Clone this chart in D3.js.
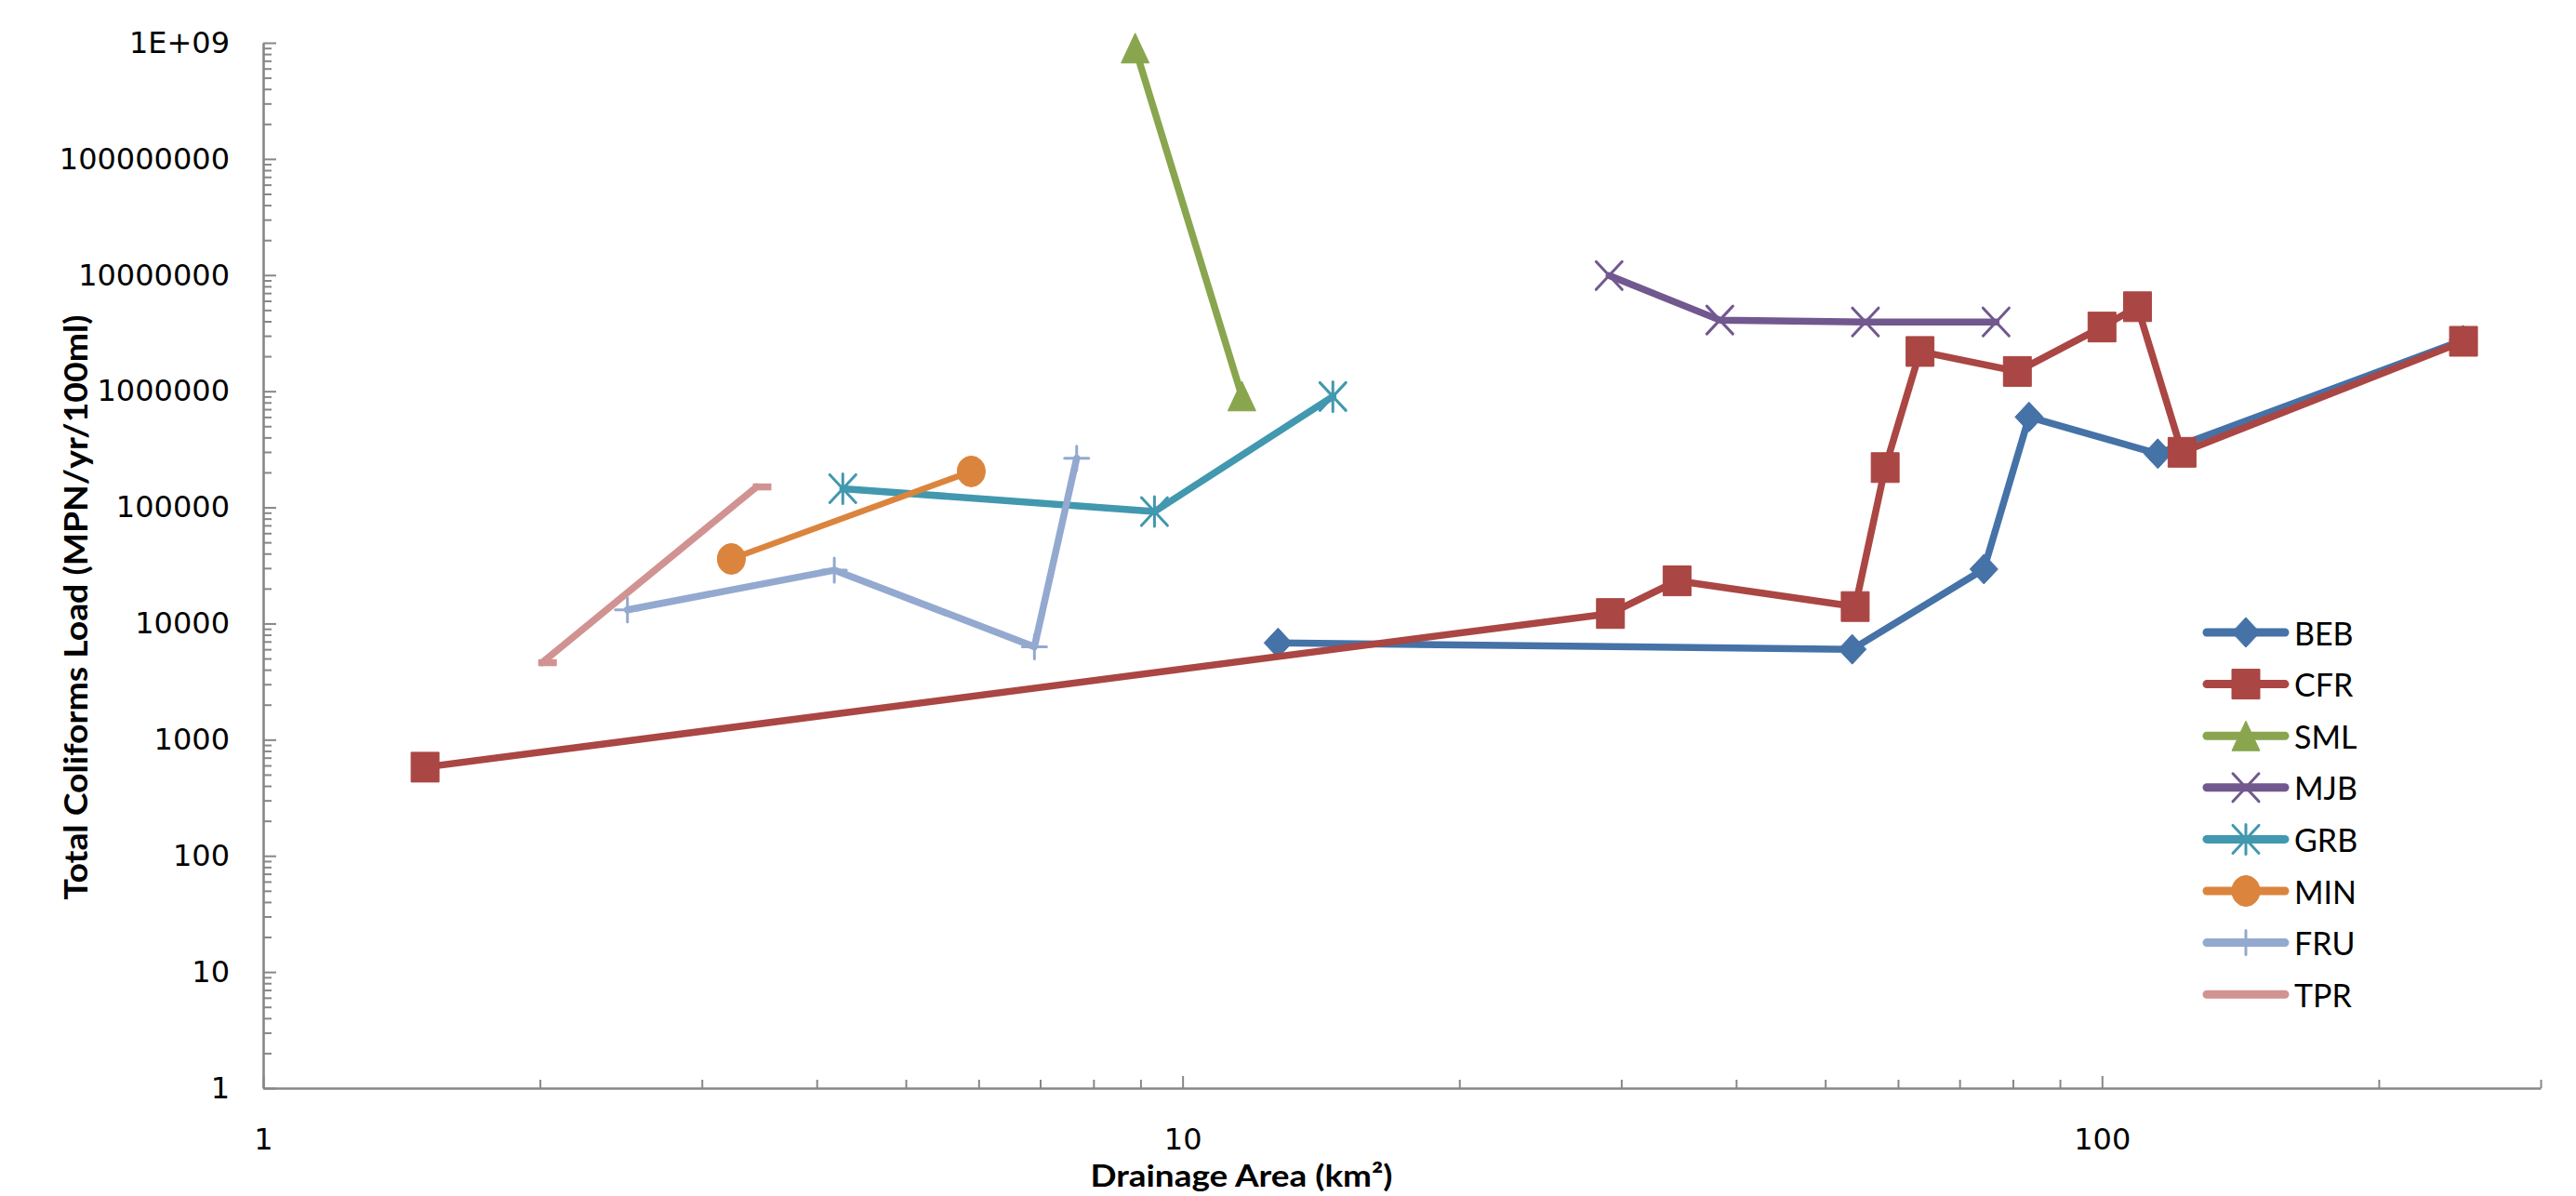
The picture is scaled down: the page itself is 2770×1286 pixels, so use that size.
<!DOCTYPE html>
<html>
<head>
<meta charset="utf-8">
<script src="https://cdn.jsdelivr.net/npm/d3@7"></script>
<style>
  body { margin: 0; background: #fff; }
  svg { display: block; }
</style>
</head>
<body>
<svg id="chart" width="2770" height="1286"></svg>
<script>
// Drainage area (km²) vs. total coliforms load (MPN/yr/100ml), one array per watershed
const BEB = [[12.7, 6800], [53.5, 6000], [74.4, 29400], [83.3, 600000], [115, 290000], [247, 2750000]];
const CFR = [[1.5, 580], [29.2, 12200], [34.5, 23300], [53.9, 14000], [58.1, 220000], [63.4, 2200000],
             [80.9, 1480000], [100, 3570000], [109.3, 5340000], [122.2, 298000], [247.3, 2690000]];
const SML = [[8.88, 900000000], [11.6, 910000]];
const MJB = [[29.1, 9900000], [38.4, 4100000], [55.3, 3950000], [76.7, 3950000]];
const GRB = [[4.27, 145000], [9.32, 92000], [14.57, 900000]];
const MIN = [[3.23, 36000], [5.89, 204000]];
const FRU = [[2.49, 13100], [4.18, 28800], [6.9, 6300], [7.67, 265000]];
const TPR = [[2.01, 4600], [3.44, 150000]];

const seriesNames = ["BEB", "CFR", "SML", "MJB", "GRB", "MIN", "FRU", "TPR"];
const seriesData = [BEB, CFR, SML, MJB, GRB, MIN, FRU, TPR];
const seriesColors = ["#4572A7", "#AA4643", "#89A54E", "#71588F", "#4198AF", "#DB843D", "#93A9CF", "#D19392"];
const seriesMarkers = ["diamond", "square", "triangle", "x", "star", "circle", "plus", "dash"];

const xTickValues = [1, 10, 100];
const xTickLabels = ["1", "10", "100"];
const yTickValues = [1, 10, 100, 1000, 10000, 100000, 1000000, 10000000, 100000000, 1000000000];
const yTickLabels = ["1", "10", "100", "1000", "10000", "100000", "1000000", "10000000", "100000000", "1E+09"];

const xTitle = "Drainage Area (km²)";
const yTitle = "Total Coliforms Load (MPN/yr/100ml)";

const svg = d3.select("#chart");
const plot = { left: 283, right: 2732, top: 46, bottom: 1170 };

const x = d3.scaleLog().domain([1, 300]).range([plot.left, plot.right]);
const y = d3.scaleLog().domain([1, 1e9]).range([plot.bottom, plot.top]);

// minor ticks at 2..9 within each decade, clipped to the axis domain
function minorTicks(scale) {
  const [lo, hi] = scale.domain();
  const out = [];
  for (let p = lo; p < hi; p *= 10) {
    for (let k = 2; k <= 9; k++) if (p * k <= hi * 1.0001) out.push(p * k);
  }
  return out;
}

const axisColor = "#878787";
const tickFont = "'DejaVu Sans', sans-serif";

// ---- X axis ----
const gxMinor = svg.append("g").attr("transform", `translate(0,${plot.bottom})`)
  .call(d3.axisBottom(x).tickValues(minorTicks(x)).tickSize(-9).tickSizeOuter(0).tickFormat(""));
gxMinor.select(".domain").remove();
const gx = svg.append("g").attr("transform", `translate(0,${plot.bottom})`)
  .call(d3.axisBottom(x).tickValues(xTickValues).tickSize(-13).tickSizeOuter(0)
    .tickPadding(43).tickFormat((d, i) => xTickLabels[i]));

// ---- Y axis ----
const gyMinor = svg.append("g").attr("transform", `translate(${plot.left},0)`)
  .call(d3.axisLeft(y).tickValues(minorTicks(y)).tickSize(-9).tickSizeOuter(0).tickFormat(""));
gyMinor.select(".domain").remove();
const gy = svg.append("g").attr("transform", `translate(${plot.left},0)`)
  .call(d3.axisLeft(y).tickValues(yTickValues).tickSize(-14).tickSizeOuter(0)
    .tickPadding(36).tickFormat((d, i) => yTickLabels[i]));

svg.selectAll(".domain").attr("stroke", axisColor).attr("stroke-width", 2.6);
svg.selectAll(".tick line").attr("stroke", axisColor).attr("stroke-width", 2);
svg.selectAll(".tick text").attr("font-family", tickFont).attr("font-size", 32).attr("fill", "#000");

// ---- Axis titles ----
svg.append("text")
  .attr("x", 1335).attr("y", 1276)
  .attr("text-anchor", "middle")
  .attr("font-family", "Lato, sans-serif").attr("font-weight", 700).attr("font-size", 33)
  .attr("textLength", 325).attr("lengthAdjust", "spacingAndGlyphs")
  .text(xTitle);

svg.append("text")
  .attr("transform", "translate(80,653) rotate(-90)")
  .attr("text-anchor", "middle").attr("dominant-baseline", "central")
  .attr("font-family", "Lato, sans-serif").attr("font-weight", 700).attr("font-size", 35)
  .attr("textLength", 629).attr("lengthAdjust", "spacingAndGlyphs")
  .text(yTitle);

// ---- Marker shapes ----
const markerShapes = {
  diamond:  { d: "M0,-16L15,0L0,16L-15,0Z", fill: true },
  square:   { d: "M-15,-16H15V16H-15Z", fill: true },
  triangle: { d: "M0,-16L15,16L-15,16Z", fill: true },
  circle:   { d: "M-15,0A15,16.5 0 1,0 15,0A15,16.5 0 1,0 -15,0Z", fill: true },
  x:        { d: "M-14,-15L14,15M14,-15L-14,15", fill: false, w: 3 },
  star:     { d: "M-14,-15L14,15M14,-15L-14,15M0,-16L0,16", fill: false, w: 3 },
  plus:     { d: "M-13,0L13,0M0,-13L0,13", fill: false, w: 3 },
  dash:     { d: "M-4,0L16,0", fill: false, w: 7.5, cap: "butt" }
};

function drawMarker(g, type, color) {
  const m = markerShapes[type];
  const p = g.append("path").attr("d", m.d);
  if (m.fill) {
    p.attr("fill", color).attr("stroke", color).attr("stroke-width", 1).attr("stroke-linejoin", "round");
  } else {
    p.attr("fill", "none").attr("stroke", color).attr("stroke-width", m.w)
      .attr("stroke-linecap", m.cap || "round");
  }
}

// ---- Series ----
const line = d3.line().x(d => x(d[0])).y(d => y(d[1]));
const lineWidths = [7.5, 7.5, 7.5, 7.5, 7.5, 6.5, 7.5, 7.5];

seriesData.forEach((data, i) => {
  const g = svg.append("g").attr("class", "series " + seriesNames[i]);
  g.append("path")
    .datum(data)
    .attr("d", line)
    .attr("fill", "none")
    .attr("stroke", seriesColors[i])
    .attr("stroke-width", lineWidths[i])
    .attr("stroke-linejoin", "round")
    .attr("stroke-linecap", "round");
  data.forEach(d => {
    const mg = g.append("g").attr("transform", `translate(${x(d[0])},${y(d[1])})`);
    drawMarker(mg, seriesMarkers[i], seriesColors[i]);
  });
});

// ---- Legend ----
const legend = svg.append("g").attr("transform", "translate(2373,680)");
seriesNames.forEach((name, i) => {
  const row = legend.append("g").attr("transform", `translate(0,${i * 55.6})`);
  row.append("line")
    .attr("x1", 0).attr("x2", 84).attr("y1", 0).attr("y2", 0)
    .attr("stroke", seriesColors[i]).attr("stroke-width", 9).attr("stroke-linecap", "round");
  const mg = row.append("g").attr("transform", "translate(42,0)");
  drawMarker(mg, seriesMarkers[i], seriesColors[i]);
  row.append("text")
    .attr("x", 94).attr("y", 0)
    .attr("dominant-baseline", "central")
    .attr("font-family", "Lato, sans-serif").attr("font-size", 34).attr("fill", "#000")
    .text(name);
});
</script>
</body>
</html>
